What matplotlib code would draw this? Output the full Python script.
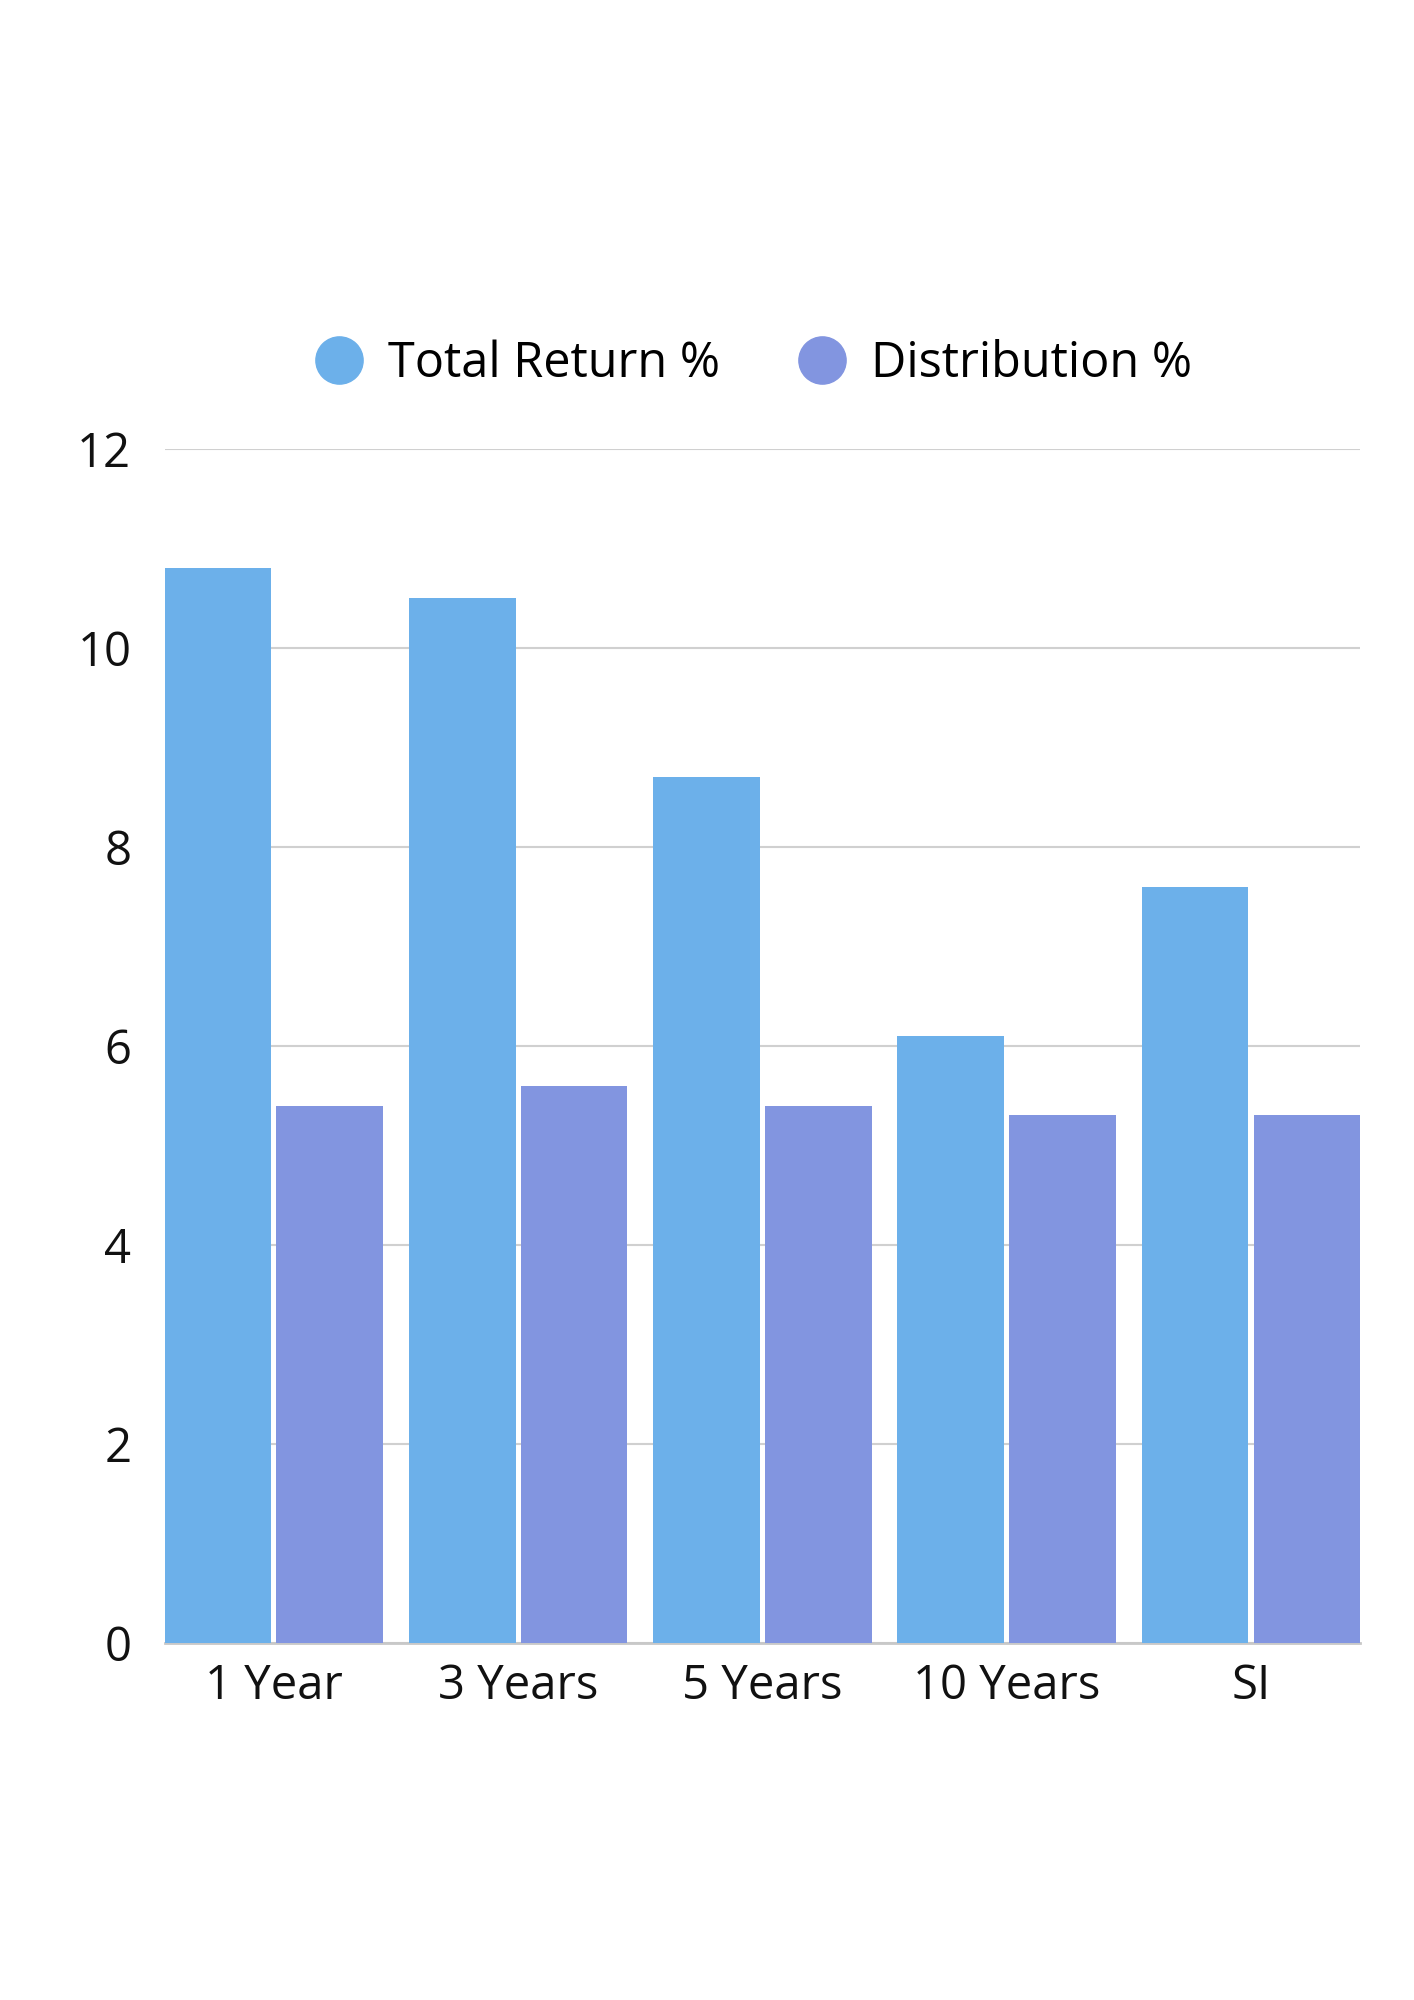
import matplotlib.pyplot as plt
from matplotlib.lines import Line2D
import numpy as np

plt.rcParams['font.family'] = ['Open Sans', 'DejaVu Sans']

periods = ["1 Year", "3 Years", "5 Years", "10 Years", "SI"]
total_return = [10.8, 10.5, 8.7, 6.1, 7.6]
distribution = [5.4, 5.6, 5.4, 5.3, 5.3]
series_names = ["Total Return %", "Distribution %"]

c_tr = "#6cb0ea"
c_dist = "#8295e0"

fig = plt.figure(figsize=(14.14, 20), dpi=100)
ax = fig.add_axes([0.1164, 0.1785, 0.8456, 0.5972])

x = np.arange(len(periods))
w = 0.437
gap = 0.0105
# total return sits left of the group centre, distribution right of it
ax.bar(x - gap, total_return, width=-w, align='edge', color=c_tr, zorder=3)
ax.bar(x + gap, distribution, width=w, align='edge', color=c_dist, zorder=3)

ax.set_xlim(-0.447, len(periods) - 1 + 0.447)
ax.set_ylim(0, 12)
ax.set_yticks(range(0, 13, 2))
ax.set_xticks(x)
ax.set_xticklabels(periods)
ax.grid(axis='y', color='#d0d0d0', linewidth=1.5, zorder=0)
for s in ['top', 'right', 'left']:
    ax.spines[s].set_visible(False)
ax.spines['bottom'].set_color('#c8c8c8')
ax.spines['bottom'].set_linewidth(2)
ax.tick_params(axis='both', length=0, labelsize=34, colors='#111111')
ax.tick_params(axis='y', pad=24)
ax.tick_params(axis='x', pad=14)

handles = [Line2D([], [], marker='o', linestyle='', markersize=34, color=c)
           for c in (c_tr, c_dist)]
fig.legend(handles, series_names, loc='center', bbox_to_anchor=(0.531, 0.818),
           ncol=2, frameon=False, fontsize=35, handletextpad=0.4,
           columnspacing=1.5, handlelength=1.2)

fig.savefig("out.png", dpi=100, facecolor='white')
